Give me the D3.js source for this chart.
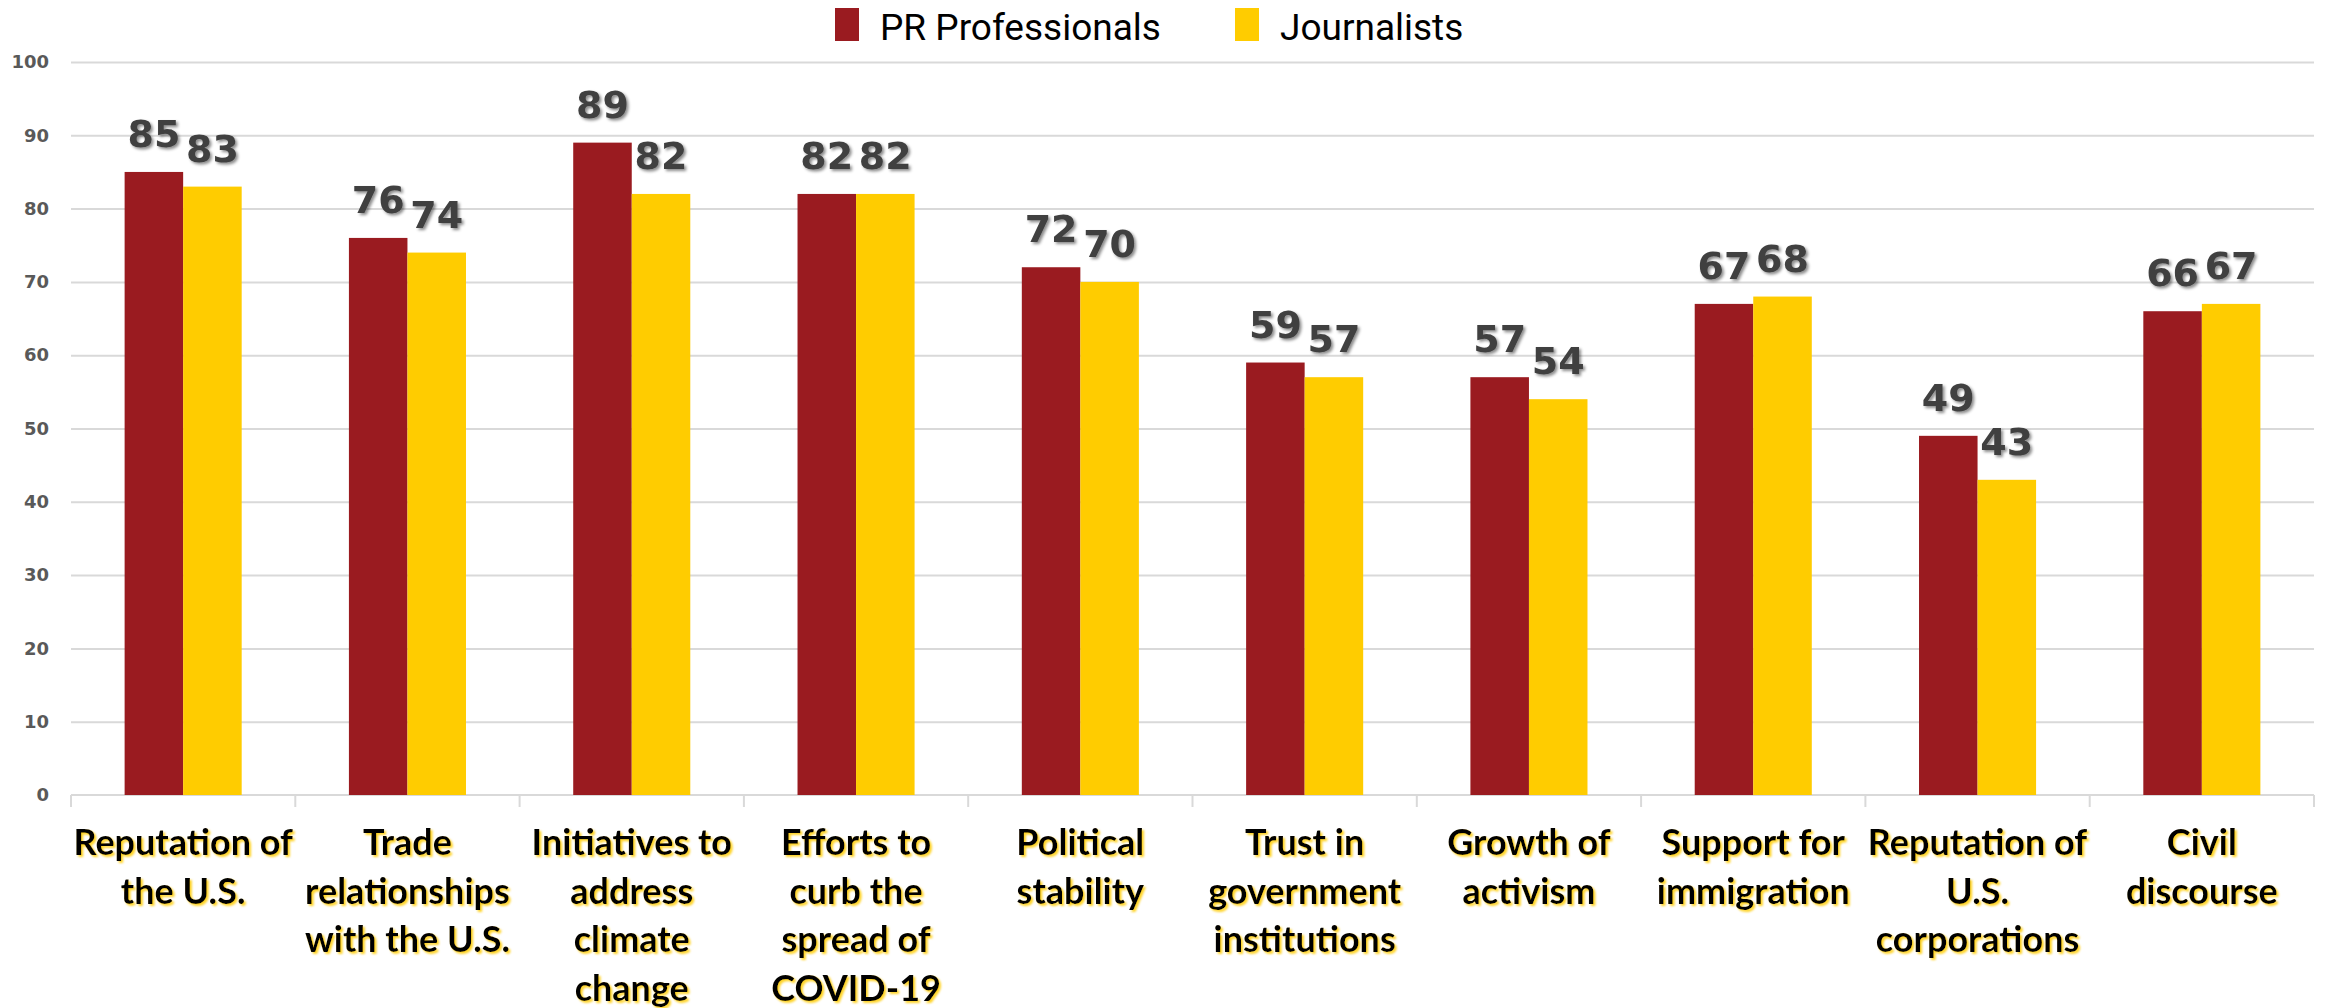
<!DOCTYPE html>
<html>
<head>
<meta charset="utf-8">
<script src="https://cdn.jsdelivr.net/npm/d3@7"></script>
<style>
  html, body { margin: 0; padding: 0; background: #fff; }
  svg { display: block; }
</style>
</head>
<body>
<svg id="chart" width="2326" height="1008"></svg>
<script>
// Survey categories (line breaks mark how each axis label wraps)
const categories = [
  "Reputation of\nthe U.S.",
  "Trade\nrelationships\nwith the U.S.",
  "Initiatives to\naddress\nclimate\nchange",
  "Efforts to\ncurb the\nspread of\nCOVID-19",
  "Political\nstability",
  "Trust in\ngovernment\ninstitutions",
  "Growth of\nactivism",
  "Support for\nimmigration",
  "Reputation of\nU.S.\ncorporations",
  "Civil\ndiscourse"
];
const seriesNames = ["PR Professionals", "Journalists"];
const prProfessionals = [85, 76, 89, 82, 72, 59, 57, 67, 49, 66];
const journalists     = [83, 74, 82, 82, 70, 57, 54, 68, 43, 67];
const yTicks = [0, 10, 20, 30, 40, 50, 60, 70, 80, 90, 100];
const colors = ["#9A1B20", "#FFCC00"];

const svg = d3.select("#chart");
const margin = { left: 71, right: 12, top: 62, bottom: 213 };
const W = 2326, H = 1008;

const x0 = d3.scaleBand().domain(d3.range(categories.length))
  .range([margin.left, W - margin.right]).padding(0);
const x1 = d3.scaleBand().domain(seriesNames)
  .range([0, x0.bandwidth()]).paddingInner(0).paddingOuter(0.916);
const y = d3.scaleLinear().domain([0, 100]).range([H - margin.bottom, margin.top]);

// filters: dark shadow for values, golden glow for category labels
const defs = svg.append("defs");
const f1 = defs.append("filter").attr("id", "valShadow")
  .attr("x", "-20%").attr("y", "-20%").attr("width", "150%").attr("height", "150%");
f1.append("feDropShadow").attr("dx", 2).attr("dy", 2).attr("stdDeviation", 1.6)
  .attr("flood-color", "#000").attr("flood-opacity", 0.45);
const f2 = defs.append("filter").attr("id", "catShadow")
  .attr("x", "-10%").attr("y", "-20%").attr("width", "130%").attr("height", "150%");
f2.append("feDropShadow").attr("dx", 2).attr("dy", 2).attr("stdDeviation", 1.2)
  .attr("flood-color", "#FFCC00").attr("flood-opacity", 0.85);

// gridlines + y labels
const yAxis = d3.axisLeft(y).tickValues(yTicks.filter(d => d > 0))
  .tickSize(-(W - margin.right - margin.left)).tickPadding(22);
const gy = svg.append("g").attr("transform", `translate(${margin.left},0)`).call(yAxis);
gy.select(".domain").remove();
gy.selectAll(".tick line").attr("stroke", "#d9d9d9").attr("stroke-width", 2);
gy.selectAll(".tick text")
  .attr("fill", "#595959").attr("font-family", "DejaVu Sans")
  .attr("font-size", 18).attr("font-weight", 600);
// zero label
svg.append("text").attr("x", margin.left - 22).attr("y", y(0)).attr("dy", "0.32em")
  .attr("text-anchor", "end").attr("fill", "#595959")
  .attr("font-family", "DejaVu Sans").attr("font-size", 18).attr("font-weight", 600)
  .text(yTicks[0]);

// bottom axis with category-boundary ticks
const base = svg.append("g");
base.append("line").attr("x1", margin.left).attr("x2", W - margin.right)
  .attr("y1", y(0)).attr("y2", y(0)).attr("stroke", "#d9d9d9").attr("stroke-width", 2);
const bounds = d3.range(categories.length + 1).map(i =>
  i < categories.length ? x0(i) : x0(i - 1) + x0.bandwidth());
base.selectAll("line.tk").data(bounds).join("line").attr("class", "tk")
  .attr("x1", d => d).attr("x2", d => d)
  .attr("y1", y(0)).attr("y2", y(0) + 12)
  .attr("stroke", "#d9d9d9").attr("stroke-width", 2);

// bars
const rows = categories.map((c, i) => ({ i, vals: [prProfessionals[i], journalists[i]] }));
const groups = svg.append("g").selectAll("g").data(rows).join("g")
  .attr("transform", d => `translate(${x0(d.i)},0)`);
groups.selectAll("rect").data(d => d.vals.map((v, k) => ({ v, k })))
  .join("rect")
  .attr("x", d => x1(seriesNames[d.k]))
  .attr("width", x1.bandwidth())
  .attr("y", d => y(d.v))
  .attr("height", d => y(0) - y(d.v))
  .attr("fill", d => colors[d.k]);

// value labels
groups.selectAll("text").data(d => d.vals.map((v, k) => ({ v, k })))
  .join("text")
  .attr("x", d => x1(seriesNames[d.k]) + x1.bandwidth() / 2)
  .attr("y", d => y(d.v) - 25)
  .attr("text-anchor", "middle")
  .attr("font-family", "DejaVu Sans").attr("font-weight", "bold")
  .attr("font-size", 38).attr("fill", "#404040")
  .attr("filter", "url(#valShadow)")
  .text(d => d3.format(".0f")(d.v));

// category labels
const cat = svg.append("g").selectAll("text").data(categories).join("text")
  .attr("x", (d, i) => x0(i) + x0.bandwidth() / 2)
  .attr("y", 855)
  .attr("text-anchor", "middle")
  .attr("font-family", "Lato").attr("font-weight", "bold")
  .attr("font-size", 36).attr("fill", "#000")
  .attr("filter", "url(#catShadow)");
cat.selectAll("tspan").data(d => d.split("\n")).join("tspan")
  .attr("x", function () { return d3.select(this.parentNode).attr("x"); })
  .attr("dy", (d, j) => j === 0 ? 0 : 48.5)
  .text(d => d);

// legend
const legend = svg.append("g");
const legendItems = [
  { name: seriesNames[0], color: colors[0], x: 835 },
  { name: seriesNames[1], color: colors[1], x: 1235 }
];
legendItems.forEach(it => {
  legend.append("rect").attr("x", it.x).attr("y", 8).attr("width", 24).attr("height", 33)
    .attr("fill", it.color);
  legend.append("text").attr("x", it.x + 45).attr("y", 40)
    .attr("font-family", "Roboto").attr("font-size", 37).attr("fill", "#000")
    .text(it.name);
});
</script>
</body>
</html>
